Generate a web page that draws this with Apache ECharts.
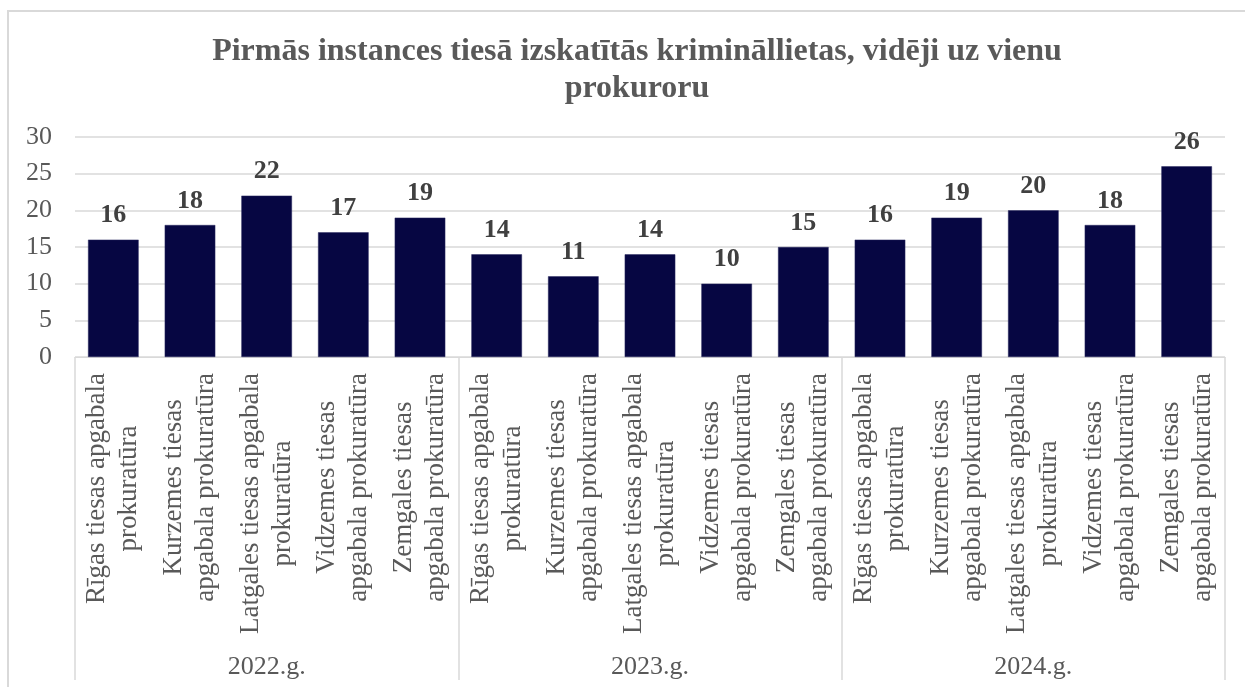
<!DOCTYPE html>
<html>
<head>
<meta charset="utf-8">
<script src="https://cdn.jsdelivr.net/npm/echarts@6/dist/echarts.min.js"></script>
<style>
  html, body { margin: 0; padding: 0; background: #fff; }
  #chart { position: absolute; left: 0; top: 0; width: 1245px; height: 687px; }
  #frame { position: absolute; left: 7px; top: 10px; width: 1260px; height: 700px;
           border: 2px solid #d9d9d9; pointer-events: none; }
</style>
</head>
<body>
<div id="chart"></div>
<div id="frame"></div>
<script>
const categories = [
  "Rīgas tiesas apgabala\nprokuratūra",
  "Kurzemes tiesas\napgabala prokuratūra",
  "Latgales tiesas apgabala\nprokuratūra",
  "Vidzemes tiesas\napgabala prokuratūra",
  "Zemgales tiesas\napgabala prokuratūra",
  "Rīgas tiesas apgabala\nprokuratūra",
  "Kurzemes tiesas\napgabala prokuratūra",
  "Latgales tiesas apgabala\nprokuratūra",
  "Vidzemes tiesas\napgabala prokuratūra",
  "Zemgales tiesas\napgabala prokuratūra",
  "Rīgas tiesas apgabala\nprokuratūra",
  "Kurzemes tiesas\napgabala prokuratūra",
  "Latgales tiesas apgabala\nprokuratūra",
  "Vidzemes tiesas\napgabala prokuratūra",
  "Zemgales tiesas\napgabala prokuratūra",
];
const years = ["2022.g.", "2023.g.", "2024.g."];
const values = [16, 18, 22, 17, 19, 14, 11, 14, 10, 15, 16, 19, 20, 18, 26];

const FONT = '"Liberation Serif", "Times New Roman", serif';
const TEXT = "#595959";
const LINE = "#d9d9d9";

const chart = echarts.init(document.getElementById("chart"));

const option = {
  animation: false,
  title: {
    text: "Pirmās instances tiesā izskatītās krimināllietas, vidēji uz vienu\nprokuroru",
    left: 632,
    textAlign: "center",
    top: 28,
    textStyle: {
      fontFamily: FONT,
      fontSize: 32,
      fontWeight: "bold",
      color: TEXT,
      lineHeight: 37,
    },
  },
  grid: {
    left: 75,
    right: 20,
    top: 137,
    bottom: 330,
  },
  xAxis: [
    {
      type: "category",
      data: categories,
      position: "bottom",
      axisLine: { show: true, lineStyle: { color: LINE, width: 1 } },
      axisTick: { show: false },
      axisLabel: {
        interval: 0,
        rotate: 90,
        margin: 16,
        formatter: (v) => v.split("\n").map((l) => "{c|" + l + "}").join("\n"),
        rich: {
          c: {
            align: "center",
            fontFamily: FONT,
            fontSize: 27,
            color: TEXT,
            lineHeight: 32,
          },
        },
      },
    },
    {
      type: "category",
      data: years,
      position: "bottom",
      offset: 0,
      axisLine: { show: false },
      axisTick: {
        show: true,
        interval: 0,
        length: 323,
        lineStyle: { color: LINE, width: 1.5 },
      },
      axisLabel: {
        interval: 0,
        margin: 297,
        fontFamily: FONT,
        fontSize: 26,
        color: TEXT,
      },
    },
  ],
  yAxis: {
    type: "value",
    min: 0,
    max: 30,
    interval: 5,
    axisLine: { show: false },
    axisTick: { show: false },
    splitLine: { show: true, lineStyle: { color: LINE, width: 1.5 } },
    axisLabel: {
      margin: 23,
      fontFamily: FONT,
      fontSize: 26,
      color: TEXT,
    },
  },
  series: [
    {
      type: "bar",
      xAxisIndex: 0,
      data: values,
      barCategoryGap: "34%",
      itemStyle: { color: "#060642", borderColor: "#2a2a60", borderWidth: 0.5 },
      label: {
        show: true,
        position: "top",
        distance: 11,
        fontFamily: FONT,
        fontSize: 26,
        fontWeight: "bold",
        color: "#404040",
      },
    },
  ],
};

chart.setOption(option);
</script>
</body>
</html>
